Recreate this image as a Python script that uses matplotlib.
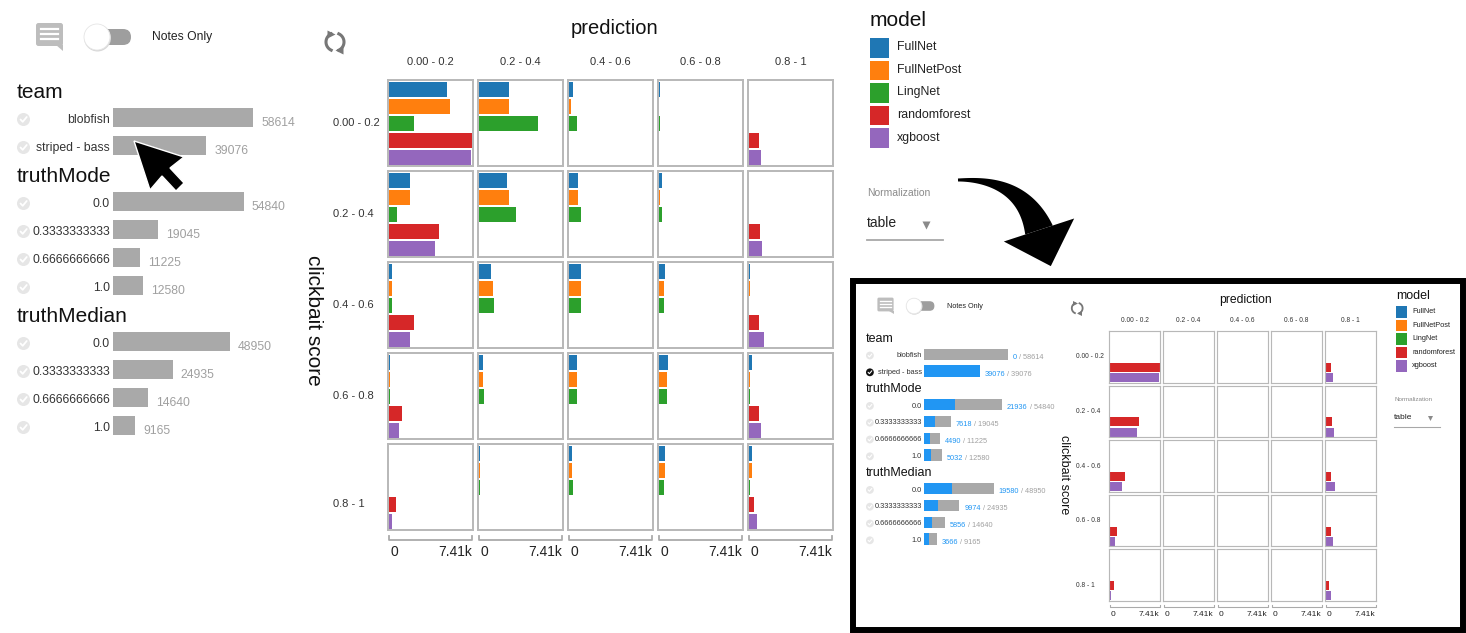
import numpy as np
import matplotlib
matplotlib.use("Agg")
import matplotlib.pyplot as plt
from matplotlib.patches import Rectangle, FancyBboxPatch, Circle, Polygon

W, H = 1466, 633
plt.rcParams.update({"font.family": ["Liberation Sans", "DejaVu Sans"]})

MODELS = ["FullNet", "FullNetPost", "LingNet", "randomforest", "xgboost"]
COLORS = ["#1f77b4", "#ff7f0e", "#2ca02c", "#d62728", "#9467bd"]
MODEL_TEAM = ["blobfish", "blobfish", "blobfish", "striped - bass", "striped - bass"]
BINS = ["0.00 - 0.2", "0.2 - 0.4", "0.4 - 0.6", "0.6 - 0.8", "0.8 - 1"]
X_MAX = 7410

# counts per model: rows = clickbait score bin, cols = prediction bin
FULLNET = [[5187, 2697, 326, 119, 0],
           [1838, 2460, 830, 237, 0],
           [237, 1097, 1097, 563, 119],
           [119, 356, 711, 830, 237],
           [0, 119, 237, 563, 237]]
FULLNETPOST = [[5424, 2697, 207, 0, 0],
               [1838, 2697, 830, 119, 0],
               [237, 1245, 1097, 445, 119],
               [119, 356, 711, 682, 119],
               [0, 119, 237, 563, 237]]
LINGNET = [[2223, 5276, 711, 89, 0],
           [741, 3320, 1067, 237, 0],
           [237, 1334, 1097, 445, 0],
           [119, 474, 711, 682, 119],
           [0, 119, 326, 445, 119]]
RANDOMFOREST = [[7410, 0, 0, 0, 860],
                [4416, 0, 0, 0, 948],
                [2223, 0, 0, 0, 860],
                [1126, 0, 0, 0, 860],
                [622, 0, 0, 0, 474]]
XGBOOST = [[7262, 0, 0, 0, 1097],
           [4061, 0, 0, 0, 1186],
           [1838, 0, 0, 0, 1334],
           [860, 0, 0, 0, 1067],
           [237, 0, 0, 0, 741]]
MODEL_DATA = [FULLNET, FULLNETPOST, LINGNET, RANDOMFOREST, XGBOOST]

TEAM = ["blobfish", "striped - bass"]
TEAM_N = [58614, 39076]
TEAM_SEL = [0, 39076]
TRUTH_MODE = ["0.0", "0.3333333333", "0.6666666666", "1.0"]
TRUTH_MODE_N = [54840, 19045, 11225, 12580]
TRUTH_MODE_SEL = [21936, 7618, 4490, 5032]
TRUTH_MEDIAN = ["0.0", "0.3333333333", "0.6666666666", "1.0"]
TRUTH_MEDIAN_N = [48950, 24935, 14640, 9165]
TRUTH_MEDIAN_SEL = [19580, 9974, 5856, 3666]
N_MAX = 58614

GRAY_BAR, BLUE = "#a9a9a9", "#2196f3"
TXT, MUTED, BORDER = "#333333", "#a0a0a0", "#b8b8b8"
PT = 0.72  # points per pixel at dpi 100

fig = plt.figure(figsize=(W / 100, H / 100), dpi=100)
bg = fig.add_axes([0, 0, 1, 1])
bg.set_xlim(0, W)
bg.set_ylim(H, 0)
bg.axis("off")


def px_axes(x, y, w, h):
    return fig.add_axes([x / W, 1 - (y + h) / H, w / W, h / H])


def check_icon(x, y, s, on):
    bg.add_patch(Circle((x, y), 6.5 * s, fc="#111111" if on else "#e6e6e6",
                        ec="none"))
    bg.plot([x - 3 * s, x - 0.8 * s, x + 3.2 * s],
            [y, y + 2.3 * s, y - 2.5 * s], color="white", lw=1.3 * s,
            solid_capstyle="round")


def draw_view(s, L0, G0, M0, selected=None):
    lx, ly = L0
    # ---- top controls ----
    bg.add_patch(FancyBboxPatch((lx + 19 * s, ly - 69 * s), 27 * s, 23 * s,
                                boxstyle=f"round,pad=0,rounding_size={2.5 * s}",
                                fc="#bdbdbd", ec="none"))
    bg.add_patch(Polygon([(lx + 39 * s, ly - 47 * s), (lx + 46 * s, ly - 47 * s),
                          (lx + 46 * s, ly - 41 * s)], fc="#bdbdbd", ec="none"))
    for yy in (-63, -58, -53):
        bg.plot([lx + 24 * s, lx + 41 * s], [ly + yy * s] * 2, color="white",
                lw=1.6 * s)
    bg.add_patch(FancyBboxPatch((lx + 78 * s, ly - 63 * s), 36 * s, 16 * s,
                                boxstyle=f"round,pad=0,rounding_size={8 * s}",
                                fc="#9e9e9e", ec="none"))
    bg.add_patch(Circle((lx + 80.5 * s, ly - 54 * s), 13.5 * s, fc="#d8d8d8",
                        ec="none"))
    bg.add_patch(Circle((lx + 80 * s, ly - 55 * s), 13 * s, fc="white",
                        ec="#e6e6e6", lw=0.6))
    bg.text(lx + 135 * s, ly - 55 * s, "Notes Only", fontsize=8.7 * s,
            color="#222222", va="center")

    # ---- facet list ----
    groups = [("team", TEAM, TEAM_N, TEAM_SEL),
              ("truthMode", TRUTH_MODE, TRUTH_MODE_N, TRUTH_MODE_SEL),
              ("truthMedian", TRUTH_MEDIAN, TRUTH_MEDIAN_N, TRUTH_MEDIAN_SEL)]
    hy = 0.0
    for name, labels, counts, sel in groups:
        n = len(labels)
        bg.text(lx, ly + hy * s, name, fontsize=15 * s, color="#111111",
                va="center")
        top = ly + (hy + 25.5 - 14) * s
        ax = px_axes(lx + 96 * s, top, 230 * s, n * 28 * s)
        ax.patch.set_alpha(0)
        ax.axis("off")
        ax.set_xlim(0, N_MAX * 230 / 140)
        ax.set_ylim(n - 0.5, -0.5)
        ax.barh(range(n), counts, height=19 / 28, color=GRAY_BAR)
        if selected is not None:
            ax.barh(range(n), sel, height=19 / 28, color=BLUE)
        for i in range(n):
            ax.annotate(labels[i], (0, i), xytext=(-3 * s * PT, -2.5 * s * PT),
                        textcoords="offset points", ha="right", va="center",
                        fontsize=8.8 * s, color=TXT)
            if selected is None:
                ax.annotate(f"{counts[i]}", (counts[i], i),
                            xytext=(8 * s * PT, -5 * s * PT),
                            textcoords="offset points", ha="left", va="center",
                            fontsize=8.8 * s, color=MUTED)
            else:
                t1 = ax.annotate(f"{sel[i]}", (counts[i], i),
                                 xytext=(8 * s * PT, -5 * s * PT),
                                 textcoords="offset points", ha="left",
                                 va="center", fontsize=8.8 * s, color=BLUE)
                ax.annotate(f" / {counts[i]}", (1, 0.5), xycoords=t1,
                            ha="left", va="center", fontsize=8.8 * s,
                            color=MUTED)
            on = selected is not None and name == "team" and labels[i] == selected
            check_icon(lx + 6.5 * s, top + (14 + 28 * i + 2) * s, s, on)
        hy += 25.5 + 28 * (n - 1) + 30.5

    # ---- grid of small multiples ----
    gx, gy = G0
    visible = [selected is None or t == selected for t in MODEL_TEAM]
    xlim = (-90, 7475)
    for r in range(5):
        for c in range(5):
            ax = px_axes(gx + c * 90 * s, gy + r * 91 * s, 85 * s, 86 * s)
            vals = [MODEL_DATA[m][r][c] if visible[m] else 0 for m in range(5)]
            ax.barh(range(5), vals, height=0.88, color=COLORS, lw=0)
            ax.set_xlim(*xlim)
            ax.set_ylim(4.5, -0.56)
            ax.set_xticks([])
            ax.set_yticks([])
            for sp in ax.spines.values():
                sp.set_color(BORDER)
                sp.set_linewidth(1.4 * s)
    for c in range(5):
        bg.text(gx + c * 90 * s + 42.5 * s, gy - 18 * s, BINS[c], fontsize=8 * s,
                color=TXT, ha="center", va="center")
        ax = px_axes(gx + c * 90 * s, gy + 456 * s, 85 * s, 4 * s)
        ax.patch.set_alpha(0)
        ax.axis("off")
        ax.set_xlim(*xlim)
        ax.set_ylim(0, 1)
        ax.plot([0, 0, X_MAX, X_MAX], [1, 0, 0, 1], color="#aaaaaa",
                lw=1.3 * s, clip_on=False)
        ax.annotate("0", (0, 0), xytext=(1.5 * s * PT, -12 * s * PT),
                    textcoords="offset points", ha="left", va="center",
                    fontsize=10 * s, color="#222222")
        ax.annotate("7.41k", (X_MAX, 0), xytext=(0, -12 * s * PT),
                    textcoords="offset points", ha="right", va="center",
                    fontsize=10 * s, color="#222222")
    label_dy = [0, 0, 0, 0, 17]
    for r in range(5):
        bg.text(gx - 55 * s, gy + (r * 91 + 43 + label_dy[r]) * s, BINS[r],
                fontsize=8 * s, color=TXT, ha="left", va="center")
    bg.text(gx + 227 * s, gy - 52 * s, "prediction", fontsize=14.5 * s,
            color="#111111", ha="center", va="center")
    bg.text(gx - 75 * s, gy + 240 * s, "clickbait score", fontsize=15 * s,
            color="#111111", ha="center", va="center", rotation=270)
    # refresh icon
    cx, cy, rr = gx - 53 * s, gy - 38 * s, 9 * s
    for a0, a1, mk in ((115, 245, ">"), (295, 425, "<")):
        th = np.radians(np.linspace(a0, a1, 30))
        bg.plot(cx + rr * np.cos(th), cy - rr * np.sin(th), color="#777777",
                lw=2.2 * s)
        bg.plot(cx + rr * np.cos(th[0]), cy - rr * np.sin(th[0]), marker=mk,
                ms=6 * s, color="#777777", mec="none")

    # ---- legend and normalization ----
    mx, my = M0
    bg.text(mx, my, "model", fontsize=15 * s, color="#111111", va="center")
    for i, (m, col) in enumerate(zip(MODELS, COLORS)):
        bg.add_patch(Rectangle((mx, my + (17 + 22.5 * i) * s), 19 * s, 19.5 * s,
                               fc=col, ec="none"))
        bg.text(mx + 27 * s, my + (26.5 + 22.5 * i) * s, m, fontsize=8.9 * s,
                color="#222222", va="center")
    bg.text(mx - 3 * s, my + 172 * s, "Normalization", fontsize=7.5 * s,
            color="#8a8a8a", va="center")
    bg.text(mx - 3 * s, my + 202 * s, "table", fontsize=10 * s, color="#222222",
            va="center")
    bg.plot(mx + 56 * s, my + 204 * s, marker="v", ms=6 * s, color="#8a8a8a",
            mec="none")
    bg.plot([mx - 3 * s, mx + 73 * s], [my + 219 * s] * 2, color="#a8a8a8",
            lw=1.3 * s)


draw_view(1.0, (17, 92), (388, 80), (870, 21))
draw_view(0.6, (866, 339), (1109, 331), (1396, 296), selected="striped - bass")

# ---- overlay: cursor, curved arrow, inset frame ----
top = fig.add_axes([0, 0, 1, 1])
top.patch.set_alpha(0)
top.set_xlim(0, W)
top.set_ylim(H, 0)
top.axis("off")
top.add_patch(Polygon([(134, 141), (150, 190), (162, 176), (176, 191),
                       (184, 183), (170, 168), (184, 157)],
                      fc="black", ec="white", lw=1.0))

t = np.linspace(0, 1, 60)[:, None]
P0, P1, P2 = np.array([958., 180.]), np.array([1022., 178.]), np.array([1039., 230.])
B = (1 - t) ** 2 * P0 + 2 * (1 - t) * t * P1 + t ** 2 * P2
dB = 2 * (1 - t) * (P1 - P0) + 2 * t * (P2 - P1)
dB /= np.linalg.norm(dB, axis=1, keepdims=True)
nrm = np.column_stack([-dB[:, 1], dB[:, 0]])
hw = (1.5 + 13 * t[:, 0] ** 1.3)[:, None]
shaft = np.vstack([B + nrm * hw, (B - nrm * hw)[::-1]])
top.add_patch(Polygon(shaft, fc="black", ec="none"))
d, nn = dB[-1], nrm[-1]
top.add_patch(Polygon([P2 + nn * 37, P2 + d * 38, P2 - nn * 37], fc="black",
                      ec="none"))

top.add_patch(Rectangle((853, 281), 610, 349, fc="none", ec="black", lw=4.3))

fig.savefig("out.png", dpi=100)
